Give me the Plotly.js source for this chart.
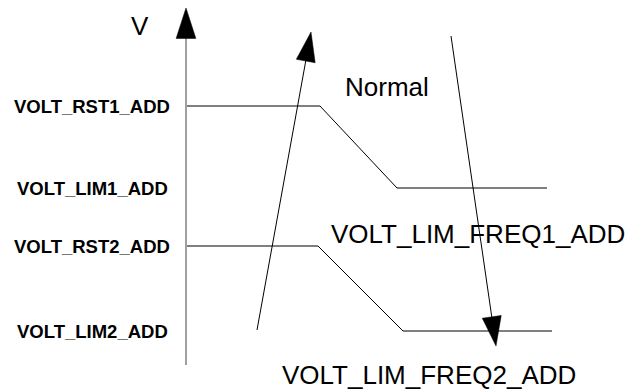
<!DOCTYPE html>
<html>
<head>
<meta charset="utf-8">
<script src="https://cdn.plot.ly/plotly-3.0.1.min.js"></script>
<style>
html, body { margin: 0; padding: 0; background: #fff; }
#chart { width: 626px; height: 392px; }
</style>
</head>
<body>
<div id="chart"></div>
<script>
// voltage levels on the V axis
const levelNames = ['VOLT_RST1_ADD', 'VOLT_LIM1_ADD', 'VOLT_RST2_ADD', 'VOLT_LIM2_ADD'];
const levelValues = [259, 177, 119, 34];

// curve 1: RST1 -> LIM1, curve 2: RST2 -> LIM2
const curve1Time = [1, 134, 211, 361];
const curve1Volt = [levelValues[0], levelValues[0], levelValues[1], levelValues[1]];
const curve2Time = [1, 132, 217, 366];
const curve2Volt = [levelValues[2], levelValues[2], levelValues[3], levelValues[3]];

// the two slanted arrows
const upArrowTime = [71, 125];
const upArrowVolt = [35, 333];
const downArrowTime = [265, 310];
const downArrowVolt = [329, 19];

// V axis
const axisTime = [0, 0];
const axisVolt = [0, 357];

const bigFont = {family: 'Liberation Sans, Arial, sans-serif', size: 26, color: '#000'};
const labelFont = {family: 'Liberation Sans, Arial, sans-serif', size: 18.5, color: '#000'};

function arrowTrace(x, y, lineCol, w, size) {
    return {
        x: x, y: y, mode: 'lines+markers', type: 'scatter',
        line: {color: lineCol, width: w},
        marker: {symbol: 'arrow', size: [0, size], angleref: 'previous', color: '#000', opacity: 1,
            line: {color: '#000', width: 0.5}},
        hoverinfo: 'skip'
    };
}

var data = [
    arrowTrace(axisTime, axisVolt, '#808080', 1.5, 32),
    {x: curve1Time, y: curve1Volt, mode: 'lines', type: 'scatter', line: {color: '#000', width: 1}},
    {x: curve2Time, y: curve2Volt, mode: 'lines', type: 'scatter', line: {color: '#000', width: 1}},
    arrowTrace(upArrowTime, upArrowVolt, '#000', 1, 31),
    arrowTrace(downArrowTime, downArrowVolt, '#000', 1, 31)
];

var annotations = [];
for (let i = 0; i < levelNames.length; i++) {
    annotations.push({x: -94, y: levelValues[i], xref: 'x', yref: 'y', text: '<b>' + levelNames[i] + '</b>',
        showarrow: false, font: labelFont, xanchor: 'center', yanchor: 'middle'});
}
annotations.push({x: -46, y: 339, text: 'V', showarrow: false, font: bigFont});
annotations.push({x: 201, y: 278, text: 'Normal', showarrow: false, font: bigFont});
annotations.push({x: 292, y: 131, text: 'VOLT_LIM_FREQ1_ADD', showarrow: false, font: bigFont});
annotations.push({x: 243, y: -10, text: 'VOLT_LIM_FREQ2_ADD', showarrow: false, font: bigFont});

var layout = {
    width: 626, height: 392,
    margin: {l: 0, r: 0, t: 0, b: 0},
    paper_bgcolor: '#fff', plot_bgcolor: '#fff',
    showlegend: false,
    xaxis: {range: [-186, 440], visible: false, fixedrange: true},
    yaxis: {range: [-27, 365], visible: false, fixedrange: true},
    annotations: annotations
};

Plotly.newPlot('chart', data, layout, {staticPlot: true});
</script>
</body>
</html>
